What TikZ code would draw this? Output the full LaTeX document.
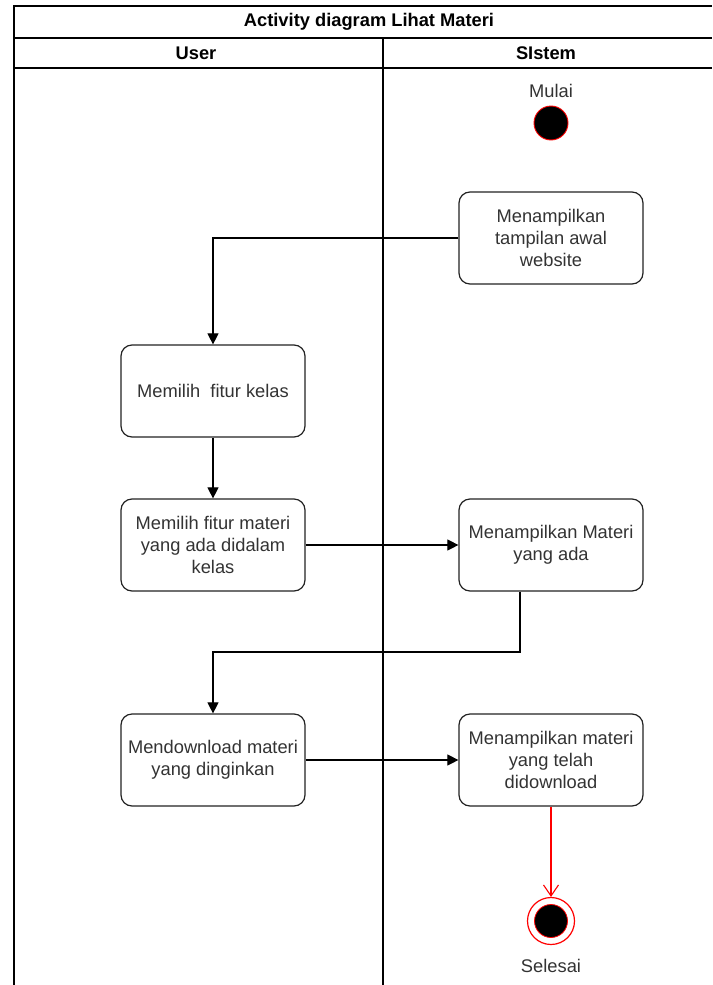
\documentclass[tikz,border=0pt]{standalone}
\usepackage{fontspec}
\setmainfont{Liberation Sans}
\usetikzlibrary{arrows.meta,calc}
\definecolor{txt}{HTML}{333333}
\definecolor{edge}{HTML}{222222}
\tikzset{
  lane/.style={draw=black,line width=1.3pt},
  act/.style={draw=edge,line width=1.2pt,rounded corners=11pt,minimum width=184pt,minimum height=92pt,
    align=center,text=txt,font=\fontsize{18.3}{22}\selectfont,inner sep=1pt},
  flow/.style={draw=black,line width=1.1pt,-{Triangle[length=11pt,width=11pt]}},
  endflow/.style={draw=red,line width=1.1pt,-{Straight Barb[length=11pt,width=15pt]}},
  lbl/.style={text=txt,font=\fontsize{18.3}{22}\selectfont},
  head/.style={font=\bfseries\fontsize{18.3}{22}\selectfont,text=black}
}
\begin{document}
\begin{tikzpicture}[x=1pt,y=-1pt]
\useasboundingbox (0,0) rectangle (712,985);
\fill[white] (0,0) rectangle (712,985);
% swimlane frame
\draw[lane] (14,985) -- (14,6) -- (712,6);
\draw[lane] (14,38) -- (712,38);
\draw[lane] (14,68) -- (712,68);
\draw[lane] (383,38) -- (383,985);
\node[head] (title) at (369,22) {Activity diagram Lihat Materi};
\node[head] (user) at (196,53) {User};
\node[head] (sistem) at (546,53) {SIstem};
% start
\node[lbl] (mulai) at (551,91) {Mulai};
\node[circle,fill=black,draw=red,line width=0.9pt,minimum size=34pt,inner sep=0pt] (start) at (551,123) {};
% activities
\node[act] (a1) at (551,238) {Menampilkan\\tampilan awal\\website};
\node[act] (a2) at (213,391) {Memilih\ \ fitur kelas};
\node[act] (a3) at (213,545) {Memilih fitur materi\\yang ada didalam\\kelas};
\node[act] (a4) at (551,545) {Menampilkan Materi\\yang ada};
\node[act] (a5) at (213,760) {Mendownload materi\\yang dinginkan};
\node[act] (a6) at (551,760) {Menampilkan materi\\yang telah\\didownload};
% end
\node[circle,draw=red,fill=white,line width=1.2pt,minimum size=47pt,inner sep=0pt] (stop) at (551,921) {};
\node[circle,fill=black,draw=red,line width=0.8pt,minimum size=33pt,inner sep=0pt] (stopdot) at (stop.center) {};
\node[lbl] (selesai) at (551,966) {Selesai};
% flows
\draw[flow] (a1.west) -| (a2.north);
\draw[flow] (a2.south) -- (a3.north);
\draw[flow] (a3.east) -- (a4.west);
\coordinate (a4out) at ($(a4.south)+(-31,0)$);
\draw[flow] (a4out) |- (213,652) -- (a5.north);
\draw[flow] (a5.east) -- (a6.west);
\draw[endflow] (a6.south) -- (stop.north);
\end{tikzpicture}
\end{document}
